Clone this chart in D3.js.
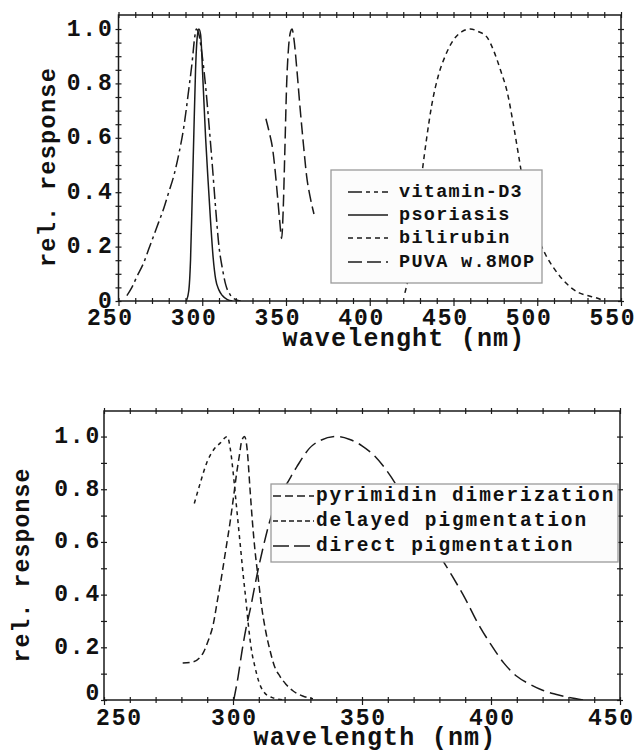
<!DOCTYPE html>
<html>
<head>
<meta charset="utf-8">
<script src="https://cdn.jsdelivr.net/npm/d3@7"></script>
<style>
  html, body { margin: 0; padding: 0; background: #ffffff; }
  svg { display: block; }
  text { font-family: "Liberation Mono", "Courier New", monospace; font-weight: bold; fill: #111; }
</style>
</head>
<body>
<svg id="chart" width="636" height="750"></svg>
<script>
// ---------------- DATA ----------------
// Top chart: wavelength (nm) vs relative response
const topNames = ["vitamin-D3", "psoriasis", "bilirubin", "PUVA w.8MOP"];
const vitaminD3 = [[255,0.02],[258,0.05],[261,0.09],[265,0.14],[268,0.19],[271,0.24],[274,0.29],[277,0.34],[280,0.40],[283,0.46],[286,0.54],[289,0.64],[292,0.78],[294,0.88],[295.5,0.97],[296.5,1.0],[298,0.98],[300,0.9],[302,0.79],[304,0.65],[306,0.5],[308,0.34],[310,0.2],[312,0.12],[314,0.06],[317,0.02],[320,0.005],[323,0]];
const psoriasis = [[290.5,0],[292,0.04],[293,0.15],[294,0.38],[295,0.62],[296,0.85],[297,0.97],[298,1.0],[299,0.98],[300.5,0.8],[302,0.6],[303.5,0.44],[305,0.29],[306.5,0.16],[308,0.08],[310,0.04],[312,0.02],[315,0.005],[318,0]];
const bilirubin = [[421,0.03],[425,0.15],[428,0.3],[431,0.46],[434,0.6],[437,0.72],[441,0.83],[445,0.9],[450,0.96],[455,0.99],[460,1.0],[465,0.99],[470,0.97],[474,0.92],[478,0.85],[482,0.77],[486,0.64],[489,0.53],[492,0.42],[496,0.32],[500,0.24],[505,0.17],[510,0.12],[515,0.08],[520,0.05],[525,0.03],[530,0.02],[536,0.01],[540,0.0]];
const puva = [[338,0.67],[340,0.62],[342,0.56],[343.5,0.48],[345,0.38],[346.3,0.29],[347.4,0.23],[348.3,0.33],[349.3,0.55],[350.4,0.8],[351.5,0.93],[352.7,0.99],[353.6,1.0],[354.8,0.96],[356.5,0.85],[358.4,0.71],[360.5,0.57],[362.3,0.46],[364.5,0.38],[366.7,0.32]];
const topXTicks = [250, 300, 350, 400, 450, 500, 550];
const topYTicks = [0, 0.2, 0.4, 0.6, 0.8, 1.0];

// Bottom chart
const bottomNames = ["pyrimidin dimerization", "delayed pigmentation", "direct pigmentation"];
const pyrimidin = [[280.5,0.14],[284.6,0.145],[287,0.16],[288.5,0.18],[290.2,0.22],[292.4,0.29],[294,0.38],[295.6,0.47],[297.2,0.57],[298.8,0.67],[300.2,0.77],[301.4,0.86],[302.5,0.93],[303.4,0.985],[304.5,1.0],[305.5,0.95],[306.6,0.8],[307.5,0.68],[308.5,0.57],[309.8,0.46],[311.1,0.354],[312.7,0.26],[314.3,0.19],[316,0.13],[318.2,0.09],[320.5,0.06],[323.2,0.035],[327,0.015],[331,0.005]];
const delayed = [[285,0.746],[287.5,0.83],[289.8,0.9],[292.5,0.95],[295,0.975],[297.8,1.0],[299,0.95],[300.1,0.86],[301,0.77],[302,0.67],[303,0.57],[304,0.47],[305,0.38],[305.9,0.29],[307,0.2],[308.5,0.126],[310,0.07],[312,0.03],[315,0.01],[320,0]];
const direct = [[300.3,0],[302,0.09],[303.4,0.18],[305,0.27],[306.6,0.34],[309.2,0.47],[311.7,0.58],[314,0.67],[317,0.76],[320.8,0.82],[324.7,0.885],[331,0.968],[340,1.0],[345,0.99],[350,0.965],[355,0.925],[360,0.865],[365,0.79],[370,0.71],[375,0.63],[380,0.55],[385,0.47],[390,0.385],[395,0.29],[400,0.21],[405,0.14],[410,0.09],[415,0.06],[420,0.037],[425,0.022],[430,0.01],[436,0]];
const bottomXTicks = [250, 300, 350, 400, 450];
const bottomYTicks = [0, 0.2, 0.4, 0.6, 0.8, 1.0];

// ---------------- DRAW ----------------
const svg = d3.select("#chart");
const INK = "#1a1a1a";

function fmtY(d) { return d === 0 ? "0" : d3.format(".1f")(d); }

function drawPanel(opt) {
  const x = d3.scaleLinear().domain(opt.xDomain).range(opt.xRange);
  const y = d3.scaleLinear().domain(opt.yDomain).range(opt.yRange);
  const g = svg.append("g");
  const [x0, x1] = opt.xRange, [yb, yt] = opt.yRange;

  g.append("rect").attr("x", x0).attr("y", yt).attr("width", x1 - x0).attr("height", yb - yt)
    .attr("fill", "#fff").attr("stroke", INK).attr("stroke-width", 1.5);

  const xMinor = d3.range(opt.xDomain[0], opt.xDomain[1] + 0.001, opt.xMinorStep);
  const yMinor = d3.range(0, opt.yMaxTick + 0.0001, opt.yMinorStep).map(v => +v.toFixed(3));

  // bottom axis
  const bx = g.append("g").attr("transform", `translate(0,${yb})`)
    .call(d3.axisBottom(x).tickValues(xMinor).tickFormat(d => opt.xTicks.includes(d) ? d : "").tickSizeOuter(0));
  bx.select(".domain").remove();
  bx.selectAll(".tick line").attr("y1", -3).attr("y2", d => opt.xTicks.includes(d) ? 5 : 3).attr("stroke", INK).attr("stroke-width", 1.2);
  bx.selectAll(".tick text").attr("y", opt.xLabelY).attr("dy", 0).attr("x", d => opt.xLabelShift(d))
    .style("font-size", opt.tickFont + "px").style("letter-spacing", opt.tickSpacing + "px").attr("fill", INK);

  // top axis (ticks only)
  const tx = g.append("g").attr("transform", `translate(0,${yt})`)
    .call(d3.axisTop(x).tickValues(xMinor).tickFormat("").tickSizeOuter(0));
  tx.select(".domain").remove();
  tx.selectAll(".tick line").attr("y1", -3).attr("y2", 3).attr("stroke", INK).attr("stroke-width", 1.2);

  // left axis
  const ly = g.append("g").attr("transform", `translate(${x0},0)`)
    .call(d3.axisLeft(y).tickValues(yMinor).tickFormat(d => opt.yTicks.some(t => Math.abs(t - d) < 1e-6) ? fmtY(d) : "").tickSizeOuter(0));
  ly.select(".domain").remove();
  ly.selectAll(".tick line").attr("x1", -3).attr("x2", 3).attr("stroke", INK).attr("stroke-width", 1.2);
  ly.selectAll(".tick text").attr("x", -opt.yLabelGap).attr("dy", d => (d === 0 ? opt.zeroDy : 0) + "px")
    .attr("dominant-baseline", "central")
    .style("font-size", opt.tickFont + "px").style("letter-spacing", opt.tickSpacing + "px").attr("fill", INK);

  // right axis (ticks only)
  const ry = g.append("g").attr("transform", `translate(${x1},0)`)
    .call(d3.axisRight(y).tickValues(yMinor).tickFormat("").tickSizeOuter(0));
  ry.select(".domain").remove();
  ry.selectAll(".tick line").attr("x1", -3).attr("x2", 3).attr("stroke", INK).attr("stroke-width", 1.2);

  // titles
  g.append("text").attr("x", opt.xTitleX).attr("y", opt.xTitleY).attr("text-anchor", "middle")
    .style("font-size", opt.titleFont + "px").style("letter-spacing", opt.titleSpacing + "px").text(opt.xTitle);
  g.append("text").attr("transform", `translate(${opt.yTitleX},${opt.yTitleY}) rotate(-90)`)
    .attr("text-anchor", "middle").style("font-size", opt.yTitleFont + "px")
    .style("letter-spacing", opt.yTitleSpacing + "px").text(opt.yTitle);

  // curves
  const line = d3.line().x(d => x(d[0])).y(d => y(d[1])).curve(d3.curveMonotoneX);
  const clip = "clip" + opt.id;
  g.append("clipPath").attr("id", clip).append("rect")
    .attr("x", x0).attr("y", yt).attr("width", x1 - x0).attr("height", yb - yt);
  opt.series.forEach(s => {
    g.append("path").datum(s.data).attr("d", line).attr("fill", "none")
      .attr("stroke", INK).attr("stroke-width", 1.5)
      .attr("stroke-dasharray", s.dash).attr("clip-path", `url(#${clip})`);
  });

  // legend
  const L = opt.legend;
  g.append("rect").attr("x", L.x).attr("y", L.y).attr("width", L.w).attr("height", L.h)
    .attr("fill", "#fcfcfc").attr("stroke", "#9a9a9a").attr("stroke-width", 1.3);
  opt.series.forEach((s, i) => {
    const cy = L.rows[i];
    g.append("line").attr("x1", L.sx0).attr("x2", L.sx1).attr("y1", cy).attr("y2", cy)
      .attr("stroke", INK).attr("stroke-width", 1.5).attr("stroke-dasharray", s.legendDash);
    g.append("text").attr("x", L.tx).attr("y", cy).attr("dominant-baseline", "central")
      .style("font-size", L.font + "px").style("letter-spacing", L.spacing + "px").text(s.name);
  });
}

drawPanel({
  id: "top",
  xDomain: [250, 550], xRange: [118.5, 621],
  yDomain: [0, 1.0515], yRange: [301, 15],
  xMinorStep: 10, yMinorStep: 0.05, yMaxTick: 1.0,
  xTicks: topXTicks, yTicks: topYTicks,
  xLabelShift: d => -8.5,
  tickFont: 23, tickSpacing: 1.8, xLabelY: 24, yLabelGap: 5, zeroDy: 0,
  xTitle: "wavelenght (nm)", xTitleX: 404, xTitleY: 346, titleFont: 25, titleSpacing: 1.2,
  yTitle: "rel. response", yTitleX: 55, yTitleY: 167, yTitleFont: 23.5, yTitleSpacing: 1.3,
  series: [
    { name: topNames[0], data: vitaminD3, dash: "12,4,3,4", legendDash: "14,4,4,4,4,4" },
    { name: topNames[1], data: psoriasis, dash: null, legendDash: null },
    { name: topNames[2], data: bilirubin, dash: "5,4", legendDash: "5,4" },
    { name: topNames[3], data: puva, dash: "12,5", legendDash: "14,5" }
  ],
  legend: { x: 331, y: 170, w: 211, h: 113, rows: [192, 215, 238, 262], sx0: 348, sx1: 388, tx: 399, font: 18.5, spacing: 1.3 }
});

drawPanel({
  id: "bottom",
  xDomain: [250, 450], xRange: [104, 620],
  yDomain: [0, 1.097], yRange: [700, 411],
  xMinorStep: 10, yMinorStep: 0.1, yMaxTick: 1.0,
  xTicks: bottomXTicks, yTicks: bottomYTicks,
  xLabelShift: d => d === 250 ? 15 : (d === 450 ? -9 : 1),
  tickFont: 23, tickSpacing: 1.8, xLabelY: 25, yLabelGap: 3, zeroDy: -7,
  xTitle: "wavelength (nm)", xTitleX: 375, xTitleY: 745, titleFont: 25, titleSpacing: 1.2,
  yTitle: "rel. response", yTitleX: 29, yTitleY: 565, yTitleFont: 23, yTitleSpacing: 1.2,
  series: [
    { name: bottomNames[0], data: pyrimidin, dash: "7,4", legendDash: "8,4" },
    { name: bottomNames[1], data: delayed, dash: "4,4", legendDash: "5,3" },
    { name: bottomNames[2], data: direct, dash: "14,6", legendDash: "16,5" }
  ],
  legend: { x: 271, y: 484, w: 347, h: 78, rows: [496, 521, 546], sx0: 273, sx1: 314, tx: 316, font: 19.5, spacing: 1.9 }
});
</script>
</body>
</html>
